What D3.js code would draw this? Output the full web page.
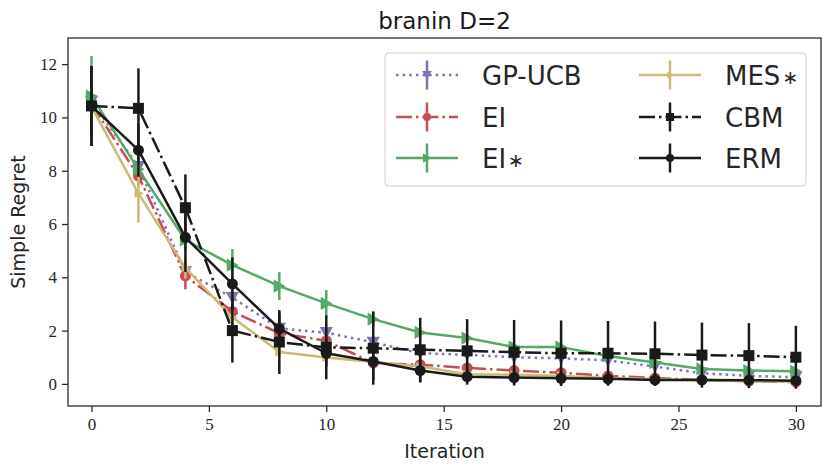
<!DOCTYPE html>
<html>
<head>
<meta charset="utf-8">
<script src="https://cdn.jsdelivr.net/npm/d3@7"></script>
<style>
  body { margin: 0; background: #fff; }
</style>
</head>
<body>
<div id="chart"></div>
<script>
// iterations (x values)
const iterations = [0, 2, 4, 6, 8, 10, 12, 14, 16, 18, 20, 22, 24, 26, 28, 30];

// mean simple regret per method
const gpucb = [10.6, 8.15, 4.2, 3.24, 2.08, 1.92, 1.56, 1.15, 1.09, 1.0, 0.96, 0.88, 0.65, 0.4, 0.3, 0.25];
const ei    = [10.5, 7.8, 4.05, 2.72, 1.9, 1.62, 0.78, 0.72, 0.6, 0.5, 0.42, 0.3, 0.22, 0.15, 0.1, 0.07];
const eiStar = [10.8, 8.05, 5.4, 4.46, 3.67, 3.02, 2.43, 1.93, 1.72, 1.38, 1.38, 1.05, 0.8, 0.56, 0.5, 0.47];
const mesStar = [10.4, 7.15, 4.35, 2.5, 1.2, 0.99, 0.82, 0.65, 0.36, 0.34, 0.3, 0.22, 0.18, 0.14, 0.1, 0.08];
const cbm   = [10.43, 10.34, 6.61, 2.0, 1.57, 1.37, 1.34, 1.28, 1.24, 1.19, 1.15, 1.15, 1.13, 1.08, 1.06, 1.0];
const erm   = [10.43, 8.77, 5.5, 3.75, 2.07, 1.15, 0.84, 0.5, 0.27, 0.24, 0.21, 0.19, 0.15, 0.15, 0.14, 0.12];

// error bar half-widths
const gpucbErr = [0.4, 0.35, 0.3, 0.3, 0.2, 0.2, 0.15, 0.12, 0.1, 0.1, 0.1, 0.1, 0.08, 0.08, 0.06, 0.06];
const eiErr    = [0.4, 0.35, 0.5, 0.3, 0.2, 0.2, 0.15, 0.12, 0.1, 0.1, 0.08, 0.08, 0.06, 0.05, 0.05, 0.05];
const eiStarErr = [1.5, 0.5, 0.4, 0.6, 0.52, 0.5, 0.3, 0.2, 0.15, 0.1, 0.1, 0.1, 0.08, 0.06, 0.06, 0.05];
const mesStarErr = [0.4, 1.1, 0.4, 0.3, 0.2, 0.15, 0.12, 0.1, 0.08, 0.08, 0.06, 0.06, 0.05, 0.05, 0.04, 0.04];
const cbmErr   = [1.5, 1.5, 1.25, 1.2, 1.2, 1.2, 1.37, 1.2, 1.19, 1.21, 1.23, 1.21, 1.21, 1.22, 1.22, 1.18];
const ermErr   = [1.5, 1.0, 1.3, 1.0, 0.6, 0.5, 0.7, 0.45, 0.3, 0.3, 0.25, 0.25, 0.2, 0.2, 0.2, 0.15];

const xTicks = [0, 5, 10, 15, 20, 25, 30];
const yTicks = [0, 2, 4, 6, 8, 10, 12];

const lw = 2.5;
const series = [
  { name: "GP-UCB", star: false, mean: gpucb, err: gpucbErr, color: "#8172B2", dash: `${lw},${1.65 * lw}`, marker: "down" },
  { name: "EI", star: false, mean: ei, err: eiErr, color: "#C44E52", dash: `${6.4 * lw},${1.6 * lw},${lw},${1.6 * lw}`, marker: "circle" },
  { name: "EI", star: true, mean: eiStar, err: eiStarErr, color: "#55A868", dash: null, marker: "right" },
  { name: "MES", star: true, mean: mesStar, err: mesStarErr, color: "#CCB974", dash: null, marker: "rightSmall" },
  { name: "CBM", star: false, mean: cbm, err: cbmErr, color: "#1a1a1a", dash: `${6.4 * lw},${1.6 * lw},${lw},${1.6 * lw}`, marker: "square" },
  { name: "ERM", star: false, mean: erm, err: ermErr, color: "#1a1a1a", dash: null, marker: "circle" }
];

const width = 831, height = 472;
const padL = 68, padR = 821, padT = 38, padB = 406;

const svg = d3.select("#chart").append("svg")
  .attr("width", width)
  .attr("height", height)
  .attr("viewBox", `0 0 ${width} ${height}`);

const x = d3.scaleLinear().domain([-1.0, 31.07]).range([padL, padR]);
const y = d3.scaleLinear().domain([-0.83, 12.98]).range([padB, padT]);

// axes
const serif = "'Liberation Serif', 'DejaVu Serif', serif";
const sans = "'DejaVu Sans', sans-serif";

const xAxis = svg.append("g")
  .attr("transform", `translate(0,${padB})`)
  .call(d3.axisBottom(x).tickValues(xTicks).tickSize(6).tickPadding(6).tickFormat(d3.format("d")));
const yAxis = svg.append("g")
  .attr("transform", `translate(${padL},0)`)
  .call(d3.axisLeft(y).tickValues(yTicks).tickSize(6).tickPadding(5).tickFormat(d3.format("d")));

[xAxis, yAxis].forEach(g => {
  g.select(".domain").remove();
  g.selectAll(".tick line").attr("stroke", "#262626").attr("stroke-width", 1.25);
  g.selectAll(".tick text").attr("fill", "#262626").style("font-family", serif).style("font-size", "17px");
});

// clip for marks
svg.append("clipPath").attr("id", "plot-clip")
  .append("rect").attr("x", padL).attr("y", padT).attr("width", padR - padL).attr("height", padB - padT);

const plot = svg.append("g").attr("clip-path", "url(#plot-clip)");

function markerPath(kind, s) {
  if (kind === "circle") return d3.symbol(d3.symbolCircle, Math.PI * (s / 2) * (s / 2))();
  if (kind === "square") return d3.symbol(d3.symbolSquare, s * s)();
  const h = s * 0.6;
  if (kind === "down") return `M${-h},${-h * 0.85}L${h},${-h * 0.85}L0,${h * 0.95}Z`;
  if (kind === "right") return `M${-h * 0.85},${-h}L${h * 0.95},0L${-h * 0.85},${h}Z`;
  if (kind === "rightSmall") return `M${-h * 0.6},${-h * 0.7}L${h * 0.8},0L${-h * 0.6},${h * 0.7}Z`;
}

const line = d3.line().x(d => x(d[0])).y(d => y(d[1]));

series.forEach(s => {
  const pts = iterations.map((it, i) => [it, s.mean[i], s.err[i]]);
  const g = plot.append("g");
  g.selectAll("line.err").data(pts).join("line")
    .attr("class", "err")
    .attr("x1", d => x(d[0])).attr("x2", d => x(d[0]))
    .attr("y1", d => y(d[1] - d[2])).attr("y2", d => y(d[1] + d[2]))
    .attr("stroke", s.color).attr("stroke-width", lw);
  g.append("path")
    .datum(pts)
    .attr("d", line)
    .attr("fill", "none")
    .attr("stroke", s.color)
    .attr("stroke-width", lw)
    .attr("stroke-dasharray", s.dash)
    .attr("stroke-linejoin", "round");
  g.selectAll("path.mk").data(pts).join("path")
    .attr("class", "mk")
    .attr("transform", d => `translate(${x(d[0])},${y(d[1])})`)
    .attr("d", markerPath(s.marker, 11))
    .attr("fill", s.color);
});

// frame
svg.append("rect")
  .attr("x", padL).attr("y", padT).attr("width", padR - padL).attr("height", padB - padT)
  .attr("fill", "none").attr("stroke", "#262626").attr("stroke-width", 1.25);

// labels
svg.append("text")
  .attr("x", (padL + padR) / 2).attr("y", 29)
  .attr("text-anchor", "middle")
  .style("font-family", sans).style("font-size", "23px").attr("fill", "#1a1a1a")
  .text("branin D=2");

svg.append("text")
  .attr("x", (padL + padR) / 2).attr("y", 458)
  .attr("text-anchor", "middle")
  .style("font-family", sans).style("font-size", "19px").attr("fill", "#262626")
  .text("Iteration");

svg.append("text")
  .attr("transform", `translate(25,${(padT + padB) / 2}) rotate(-90)`)
  .attr("text-anchor", "middle")
  .style("font-family", sans).style("font-size", "19px").attr("fill", "#262626")
  .text("Simple Regret");

// legend
const legend = svg.append("g");
legend.append("rect")
  .attr("x", 385).attr("y", 53).attr("width", 421).attr("height", 133)
  .attr("rx", 4).attr("fill", "rgba(255,255,255,0.8)")
  .attr("stroke", "#cccccc").attr("stroke-width", 1);

const colX = [396, 639];
const rowY = [75, 117, 158];
series.forEach((s, i) => {
  const col = Math.floor(i / 3), row = i % 3;
  const x0 = colX[col], yc = rowY[row];
  const g = legend.append("g");
  g.append("line")
    .attr("x1", x0).attr("x2", x0 + 62).attr("y1", yc).attr("y2", yc)
    .attr("stroke", s.color).attr("stroke-width", lw)
    .attr("stroke-dasharray", s.dash);
  g.append("line")
    .attr("x1", x0 + 31).attr("x2", x0 + 31).attr("y1", yc - 14.5).attr("y2", yc + 14.5)
    .attr("stroke", s.color).attr("stroke-width", lw);
  g.append("path")
    .attr("transform", `translate(${x0 + 31},${yc})`)
    .attr("d", markerPath(s.marker, 8))
    .attr("fill", s.color);
  const t = g.append("text")
    .attr("x", x0 + 86).attr("y", yc + 9.5)
    .style("font-family", sans).style("font-size", "26px").attr("fill", "#262626")
    .text(s.name);
  if (s.star) {
    t.append("tspan")
      .attr("dx", 2)
      .attr("dy", -1)
      .style("font-size", "19px")
      .text("\u2217");
  }
});
</script>
</body>
</html>
